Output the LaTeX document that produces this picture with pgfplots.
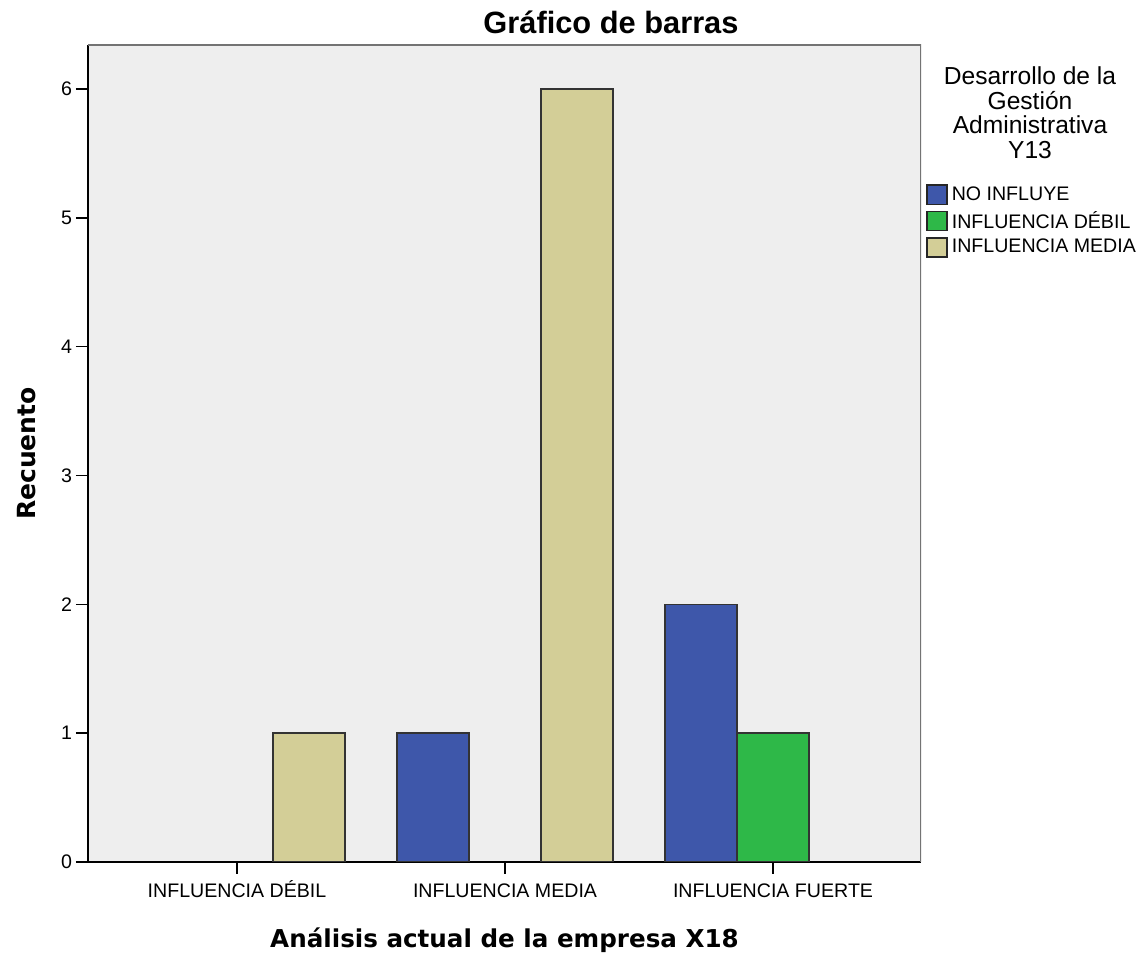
\documentclass[border=0pt]{standalone}
\usepackage{pgfplots}
\pgfplotsset{compat=1.18}
\usepackage{fontspec}
\setmainfont{Liberation Sans}
\newfontfamily\dvbold{DejaVu Sans}
\definecolor{cblue}{RGB}{62,87,170}
\definecolor{cgreen}{RGB}{46,184,72}
\definecolor{cbeige}{RGB}{211,206,151}
\definecolor{cbg}{RGB}{238,238,238}
\begin{document}
\begin{tikzpicture}
\useasboundingbox (-44pt,-47pt) rectangle (527pt,431pt);
\begin{axis}[
  at={(0,0)}, anchor=south west,
  scale only axis, width=416.5pt, height=408.5pt,
  xmin=-0.556, xmax=2.552, ymin=0, ymax=6.342,
  xtick={0,1,2}, xticklabels={INFLUENCIA DÉBIL, INFLUENCIA MEDIA, INFLUENCIA FUERTE},
  ytick={0,1,2,3,4,5,6},
  axis x line*=bottom, axis y line*=left,
  axis line style={black, line width=0.8pt, -},
  tick align=outside, major tick length=6pt,
  tick style={black, line width=0.8pt},
  axis background/.style={fill=cbg},
  ticklabel style={font=\fontsize{9.8}{11}\selectfont},
  /pgf/number format/assume math mode=true,
  xticklabel style={anchor=base, yshift=-11.8pt},
  yticklabel style={xshift=1.5pt},
  xlabel={\dvbold\bfseries Análisis actual de la empresa X18},
  xlabel style={font=\fontsize{12.3}{14}\selectfont, at={(axis description cs:0.5,-0.0955)}, anchor=center},
  ylabel={\dvbold\bfseries Recuento},
  ylabel style={font=\fontsize{12.5}{14}\selectfont, at={(axis description cs:-0.0732,0.5)}, anchor=center},
  legend style={at={(axis description cs:1,1)}, anchor=north west, xshift=-0.5pt, yshift=-66.5pt,
    draw=none, fill=none, font=\fontsize{9.8}{11}\selectfont, row sep=0pt,
    cells={anchor=west}},
  legend image code/.code={\draw[#1, draw=black!85, line width=0.7pt] (0pt,-4.8pt) rectangle (10pt,4.8pt);},
  legend cell align=left,
]
\addplot[ybar, bar width=0.269, bar shift=-0.269, fill=cblue, draw=black!80, line width=0.7pt] coordinates {(1,1) (2,2)};
\addlegendentry{NO INFLUYE}
\addplot[ybar, bar width=0.269, bar shift=0, fill=cgreen, draw=black!80, line width=0.7pt] coordinates {(2,1)};
\addlegendentry{INFLUENCIA DÉBIL}
\addplot[ybar, bar width=0.269, bar shift=0.269, fill=cbeige, draw=black!80, line width=0.7pt] coordinates {(0,1) (1,6)};
\addlegendentry{INFLUENCIA MEDIA}
\draw[black!55, line width=0.9pt] (rel axis cs:0,1) -- (rel axis cs:1,1) -- (rel axis cs:1,0);
\end{axis}
\node[font=\fontsize{15.4}{17}\selectfont\bfseries] at (261.5pt,420pt) {Gráfico de barras};
\node[font=\fontsize{12.3}{12.2}\selectfont, align=center, anchor=north] at (471pt,401pt) {Desarrollo de la\\Gestión\\Administrativa\\Y13};
\end{tikzpicture}
\end{document}
